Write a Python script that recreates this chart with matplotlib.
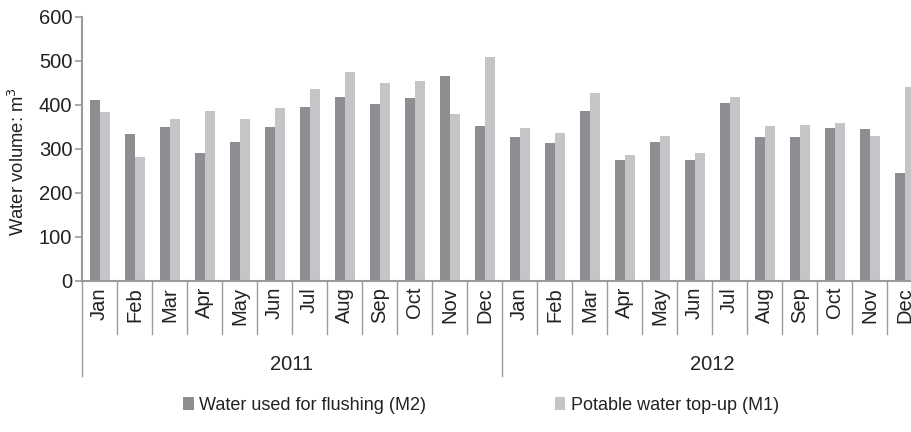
import matplotlib
matplotlib.use("Agg")
import matplotlib.pyplot as plt
from matplotlib.patches import Patch
import numpy as np

plt.rcParams['font.family'] = ['Liberation Sans', 'DejaVu Sans']

months = ["Jan", "Feb", "Mar", "Apr", "May", "Jun", "Jul", "Aug", "Sep", "Oct", "Nov", "Dec"]
years = ["2011", "2012"]
flushing_m2 = [412, 333, 349, 290, 315, 349, 396, 417, 402, 415, 465, 353,
               326, 314, 386, 274, 315, 275, 403, 326, 326, 348, 344, 245]
potable_m1 = [384, 282, 367, 385, 368, 393, 437, 474, 449, 454, 378, 508,
              348, 336, 426, 285, 330, 290, 417, 352, 355, 359, 330, 440]

dark = "#8d8e92"
light = "#c4c5c7"
axc = "#9a9a9a"
txt = "#222222"
fs = 14.5

W, H = 912, 432
fig = plt.figure(figsize=(W / 100, H / 100), dpi=100)
x0, x1, y0, y1 = 82, 922, 281, 16.7
ax = fig.add_axes([x0 / W, 1 - y0 / H, (x1 - x0) / W, (y0 - y1) / H])

n = len(flushing_m2)
x = np.arange(n)
bw = 10 / 35
ax.bar(x - bw * 0.92, flushing_m2, width=bw, align='edge', color=dark, linewidth=0)
ax.bar(x - bw * 0.92 + bw, potable_m1, width=bw, align='edge', color=light, linewidth=0)

ax.set_xlim(-0.5, n - 0.5)
ax.set_ylim(0, 600)
ax.set_yticks(range(0, 601, 100))
ax.tick_params(axis='y', direction='out', length=5, width=1.2, color=axc,
               labelsize=fs, labelcolor=txt, pad=2)
ax.set_xticks([])
for s in ['top', 'right']:
    ax.spines[s].set_visible(False)
for s in ['left', 'bottom']:
    ax.spines[s].set_color(axc)
    ax.spines[s].set_linewidth(1.5)

fig.text(18 / W, 1 - 161 / H, "Water volume: m$^3$", rotation=90, ha='center', va='center',
         fontsize=13.3, color=txt)

trans = ax.get_xaxis_transform()
px_per_ax = (y0 - y1)
def ay(py):
    return (y0 - py) / px_per_ax

for k in range(n + 1):
    bx = k - 0.5
    bottom = 376 if k % 12 == 0 else 334
    ax.plot([bx, bx], [0, ay(bottom)], transform=trans, color=axc, lw=1.0, clip_on=False)

for k in range(n):
    ax.text(k, ay(287), months[k % 12], transform=trans, rotation=90, ha='center', va='top',
            fontsize=fs, color=txt, clip_on=False)

for j, yr in enumerate(years):
    ax.text(j * 12 + 5.5, ay(365), yr, transform=trans, ha='center', va='center',
            fontsize=fs, color=txt, clip_on=False)

handles = [Patch(facecolor=dark, edgecolor='none', label="Water used for flushing (M2)"),
           Patch(facecolor=light, edgecolor='none', label="Potable water top-up (M1)")]
fig.legend(handles=handles, loc='center', bbox_to_anchor=(481 / W, 1 - 405 / H), ncol=2,
           frameon=False, fontsize=13, handlelength=0.6, handleheight=0.7, handletextpad=0.3,
           columnspacing=7.1, labelcolor=txt)

fig.savefig("out.png", dpi=100)
